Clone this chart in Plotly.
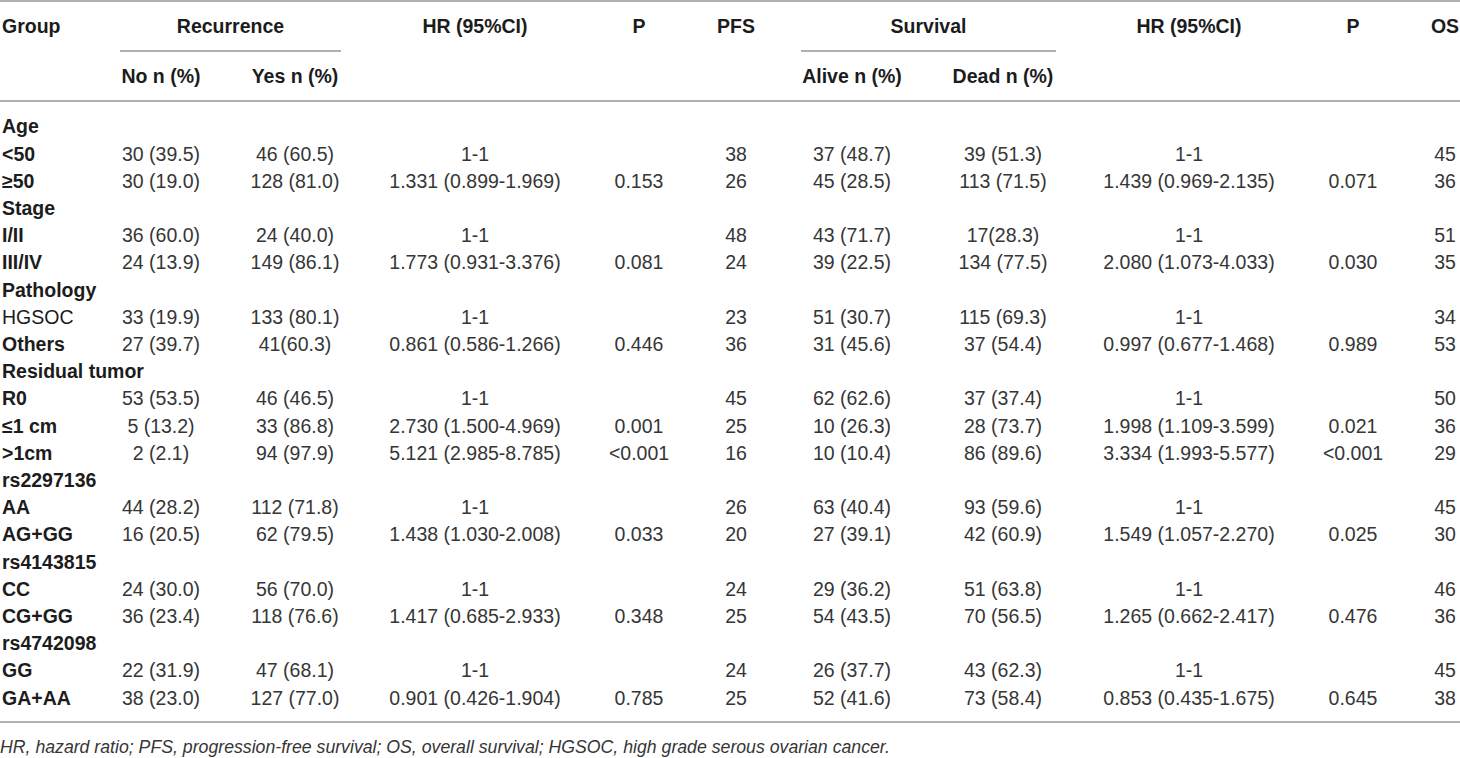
import plotly.graph_objects as go

# ---------------- table content ----------------
group_labels = ["Age", "<50", "≥50", "Stage", "I/II", "III/IV", "Pathology", "HGSOC", "Others",
                "Residual tumor", "R0", "≤1 cm", ">1cm", "rs2297136", "AA", "AG+GG",
                "rs4143815", "CC", "CG+GG", "rs4742098", "GG", "GA+AA"]
plain_labels = ["HGSOC"]  # the only row label not set in bold

rec_no = ["", "30 (39.5)", "30 (19.0)", "", "36 (60.0)", "24 (13.9)", "", "33 (19.9)", "27 (39.7)",
          "", "53 (53.5)", "5 (13.2)", "2 (2.1)", "", "44 (28.2)", "16 (20.5)",
          "", "24 (30.0)", "36 (23.4)", "", "22 (31.9)", "38 (23.0)"]
rec_yes = ["", "46 (60.5)", "128 (81.0)", "", "24 (40.0)", "149 (86.1)", "", "133 (80.1)", "41(60.3)",
           "", "46 (46.5)", "33 (86.8)", "94 (97.9)", "", "112 (71.8)", "62 (79.5)",
           "", "56 (70.0)", "118 (76.6)", "", "47 (68.1)", "127 (77.0)"]
hr_pfs = ["", "1-1", "1.331 (0.899-1.969)", "", "1-1", "1.773 (0.931-3.376)", "", "1-1", "0.861 (0.586-1.266)",
          "", "1-1", "2.730 (1.500-4.969)", "5.121 (2.985-8.785)", "", "1-1", "1.438 (1.030-2.008)",
          "", "1-1", "1.417 (0.685-2.933)", "", "1-1", "0.901 (0.426-1.904)"]
p_pfs = ["", "", "0.153", "", "", "0.081", "", "", "0.446",
         "", "", "0.001", "<0.001", "", "", "0.033",
         "", "", "0.348", "", "", "0.785"]
pfs = ["", "38", "26", "", "48", "24", "", "23", "36",
       "", "45", "25", "16", "", "26", "20",
       "", "24", "25", "", "24", "25"]
surv_alive = ["", "37 (48.7)", "45 (28.5)", "", "43 (71.7)", "39 (22.5)", "", "51 (30.7)", "31 (45.6)",
              "", "62 (62.6)", "10 (26.3)", "10 (10.4)", "", "63 (40.4)", "27 (39.1)",
              "", "29 (36.2)", "54 (43.5)", "", "26 (37.7)", "52 (41.6)"]
surv_dead = ["", "39 (51.3)", "113 (71.5)", "", "17(28.3)", "134 (77.5)", "", "115 (69.3)", "37 (54.4)",
             "", "37 (37.4)", "28 (73.7)", "86 (89.6)", "", "93 (59.6)", "42 (60.9)",
             "", "51 (63.8)", "70 (56.5)", "", "43 (62.3)", "73 (58.4)"]
hr_os = ["", "1-1", "1.439 (0.969-2.135)", "", "1-1", "2.080 (1.073-4.033)", "", "1-1", "0.997 (0.677-1.468)",
         "", "1-1", "1.998 (1.109-3.599)", "3.334 (1.993-5.577)", "", "1-1", "1.549 (1.057-2.270)",
         "", "1-1", "1.265 (0.662-2.417)", "", "1-1", "0.853 (0.435-1.675)"]
p_os = ["", "", "0.071", "", "", "0.030", "", "", "0.989",
        "", "", "0.021", "<0.001", "", "", "0.025",
        "", "", "0.476", "", "", "0.645"]
os_months = ["", "45", "36", "", "51", "35", "", "34", "53",
             "", "50", "36", "29", "", "45", "30",
             "", "46", "36", "", "45", "38"]

top_headers = ["HR (95%CI)", "P", "PFS", "HR (95%CI)", "P", "OS"]
span_headers = ["Recurrence", "Survival"]
sub_headers = ["No n (%)", "Yes n (%)", "Alive n (%)", "Dead n (%)"]
footnote = ("HR, hazard ratio; PFS, progression-free survival; OS, overall survival; "
            "HGSOC, high grade serous ovarian cancer.")

# ---------------- layout constants (pixels) ----------------
W, H = 1460, 758
FONT = "Liberation Sans, Arial, sans-serif"
FS = 19.5
TXT = "#363636"
BOLD = "#1c1c1c"
LINE = "#b0b0b0"

col_x = {"no": 161, "yes": 295, "hr1": 475, "p1": 639, "pfs": 736,
         "alive": 852, "dead": 1003, "hr2": 1189, "p2": 1353, "os": 1445}
y_head1, y_head2 = 28, 78
row_y0, row_step = 128.5, 27.2
row_y = [row_y0 + row_step * i for i in range(len(group_labels))]


def esc(s):
    return s.replace("<", "&lt;").replace(">", "&gt;")


def text_trace(xs, ys, texts, pos, color):
    return go.Scatter(
        x=xs, y=ys, text=texts, mode="text", textposition=pos,
        textfont=dict(family=FONT, size=FS, color=color),
        hoverinfo="skip", showlegend=False,
    )


fig = go.Figure()

# row labels
label_text = [esc(s) if s in plain_labels else "<b>" + esc(s) + "</b>" for s in group_labels]
fig.add_trace(text_trace([2] * len(group_labels), row_y, label_text, "middle right", BOLD))

# body columns
columns = [("no", rec_no), ("yes", rec_yes), ("hr1", hr_pfs), ("p1", p_pfs), ("pfs", pfs),
           ("alive", surv_alive), ("dead", surv_dead), ("hr2", hr_os), ("p2", p_os), ("os", os_months)]
for key, vals in columns:
    fig.add_trace(text_trace([col_x[key]] * len(vals), row_y, [esc(v) for v in vals],
                             "middle center", TXT))

# header row 1
head_x = [col_x["hr1"], col_x["p1"], col_x["pfs"], col_x["hr2"], col_x["p2"], col_x["os"]]
fig.add_trace(text_trace(head_x, [y_head1] * len(top_headers),
                         ["<b>" + h + "</b>" for h in top_headers], "middle center", BOLD))
fig.add_trace(text_trace([2], [y_head1], ["<b>Group</b>"], "middle right", BOLD))
span_rng = [(120, 341), (801, 1056)]
fig.add_trace(text_trace([(a + b) / 2 for a, b in span_rng], [y_head1] * 2,
                         ["<b>" + h + "</b>" for h in span_headers], "middle center", BOLD))
# header row 2
fig.add_trace(text_trace([col_x["no"], col_x["yes"], col_x["alive"], col_x["dead"]], [y_head2] * 4,
                         ["<b>" + h + "</b>" for h in sub_headers], "middle center", BOLD))

# rules
shapes = [dict(type="line", x0=0, x1=W, y0=1, y1=1),
          dict(type="line", x0=0, x1=W, y0=101, y1=101),
          dict(type="line", x0=0, x1=W, y0=722, y1=722)]
for a, b in span_rng:
    shapes.append(dict(type="line", x0=a, x1=b, y0=51, y1=51))
for s in shapes:
    s.update(xref="x", yref="y", line=dict(color=LINE, width=2))

fig.update_layout(
    width=W, height=H,
    margin=dict(l=0, r=0, t=0, b=0),
    paper_bgcolor="white", plot_bgcolor="white",
    xaxis=dict(range=[0, W], visible=False, fixedrange=True),
    yaxis=dict(range=[H, 0], visible=False, fixedrange=True),
    shapes=shapes,
    annotations=[dict(x=0, y=747, xref="x", yref="y", xshift=-2, text="<i>" + footnote + "</i>",
                      showarrow=False, xanchor="left", yanchor="middle",
                      font=dict(family=FONT, size=17.7, color=TXT))],
)

fig.write_html("out.html", config={"displayModeBar": False},
               post_script="document.body.style.margin='0';document.body.style.overflow='hidden';")
